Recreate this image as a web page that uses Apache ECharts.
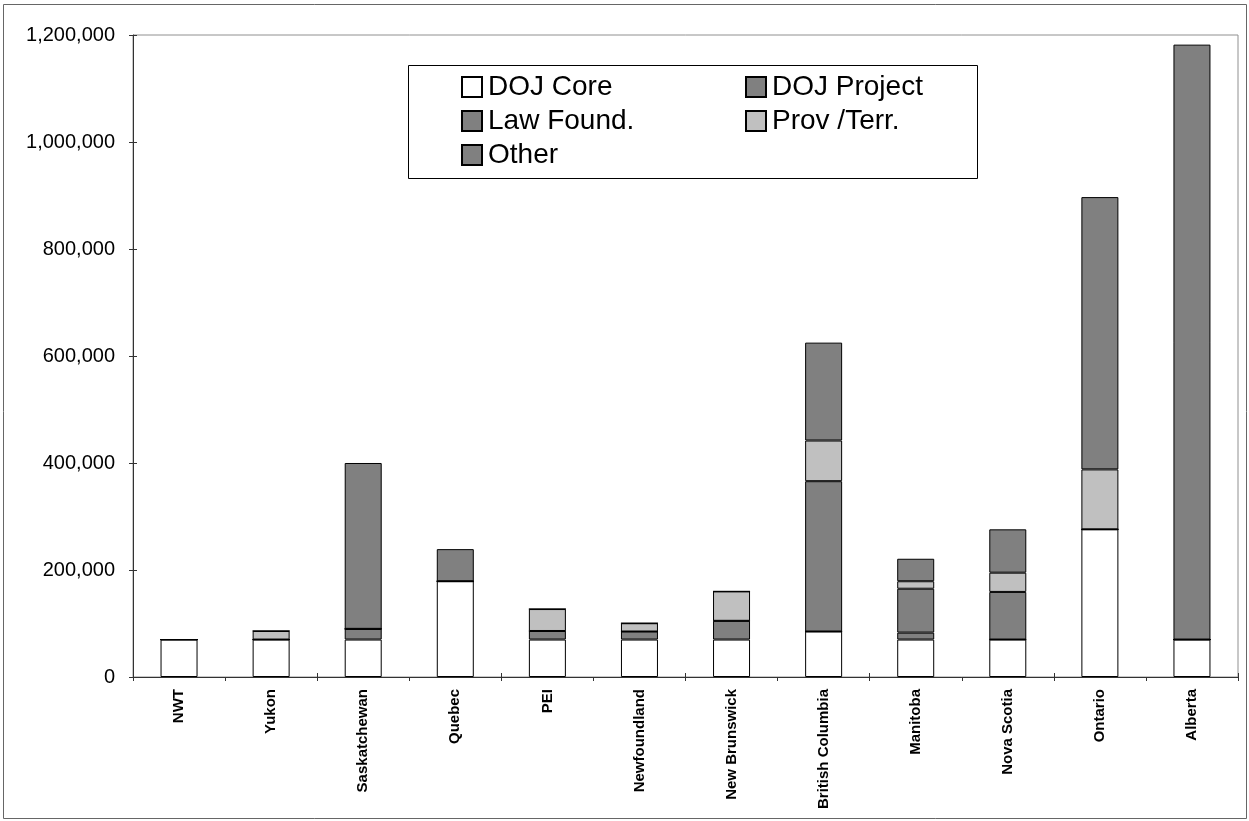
<!DOCTYPE html>
<html>
<head>
<meta charset="utf-8">
<title>Funding by jurisdiction</title>
<script src="https://cdn.jsdelivr.net/npm/echarts@6/dist/echarts.min.js"></script>
<style>
  html, body { margin: 0; padding: 0; background: #fff; }
  #chart { width: 1249px; height: 821px; }
</style>
</head>
<body>
<div id="chart"></div>
<script>
// Jurisdictions along the category axis
const provinces = ['NWT', 'Yukon', 'Saskatchewan', 'Quebec', 'PEI', 'Newfoundland',
  'New Brunswick', 'British Columbia', 'Manitoba', 'Nova Scotia', 'Ontario', 'Alberta'];

// Funding by source (dollars), stacked bottom to top
const dojCore    = [70000, 70000, 70000, 179000, 70000, 70000, 70000, 85000, 70000, 70000, 276000, 70000];
const dojProject = [0, 0, 20000, 0, 16000, 15000, 35000, 0, 13000, 0, 0, 0];
const lawFound   = [0, 0, 0, 0, 0, 0, 0, 281000, 82000, 89000, 0, 0];
const provTerr   = [0, 16000, 0, 0, 41000, 15500, 55000, 76000, 14000, 36000, 112000, 0];
const other      = [0, 0, 310000, 60000, 0, 0, 0, 183000, 42000, 81000, 509000, 1112000];

const yTicks = { min: 0, max: 1200000, step: 200000 };

const FONT = "'Liberation Sans', Arial, Helvetica, sans-serif";

const chart = echarts.init(document.getElementById('chart'), null, { renderer: 'canvas' });

function stackSeries(name, data, color) {
  return {
    name: name,
    type: 'bar',
    stack: 'total',
    data: data,
    barWidth: 37,
    itemStyle: { color: color, borderColor: '#000', borderWidth: 1 },
    emphasis: { disabled: true }
  };
}

const legendText = { fontFamily: FONT, fontSize: 28, color: '#000', padding: [0, 0, 0, 1] };

// One legend per column, so the two columns line up like a grid
function legendColumn(left, names) {
  return {
    orient: 'vertical', left: left, top: 68,
    itemWidth: 20, itemHeight: 20, itemGap: 6,
    selectedMode: false, icon: 'rect',
    textStyle: legendText,
    data: names
  };
}

chart.setOption({
  animation: false,
  backgroundColor: '#fff',
  grid: {
    left: 133, right: 11, top: 35, bottom: 144,
    show: true, borderColor: '#909090', borderWidth: 1
  },
  graphic: [
    {
      type: 'rect', silent: true, z: -1,
      shape: { x: 3.5, y: 4.5, width: 1243, height: 814 },
      style: { fill: 'none', stroke: '#666', lineWidth: 1 }
    },
    {
      type: 'rect', silent: true, z: 0,
      shape: { x: 408.5, y: 65.5, width: 569, height: 113 },
      style: { fill: '#fff', stroke: '#000', lineWidth: 1 }
    }
  ],
  legend: [
    legendColumn(456, ['DOJ Core', 'Law Found.', 'Other']),
    legendColumn(740, ['DOJ Project', 'Prov /Terr.'])
  ],
  xAxis: [
    {
      type: 'category',
      data: provinces,
      axisLine: { lineStyle: { color: '#333', width: 1 } },
      axisTick: { show: true, length: 4, lineStyle: { color: '#333' } },
      axisLabel: {
        rotate: 90, interval: 0, margin: 12,
        fontFamily: FONT, fontSize: 15, fontWeight: 'bold', color: '#000'
      },
      splitLine: { show: false }
    },
    {
      type: 'category',
      data: provinces,
      position: 'bottom',
      axisLine: { show: false },
      axisTick: { show: true, inside: true, length: 4, lineStyle: { color: '#333' } },
      axisLabel: { show: false },
      splitLine: { show: false }
    }
  ],
  yAxis: [
    {
      type: 'value',
      min: yTicks.min, max: yTicks.max, interval: yTicks.step,
      axisLine: { show: true, lineStyle: { color: '#333', width: 1 } },
      axisTick: { show: true, length: 4, lineStyle: { color: '#333' } },
      axisLabel: {
        margin: 18, fontFamily: FONT, fontSize: 20, color: '#000',
        formatter: v => v.toLocaleString('en-US')
      },
      splitLine: { show: false }
    },
    {
      type: 'value',
      min: yTicks.min, max: yTicks.max, interval: yTicks.step,
      position: 'left',
      axisLine: { show: false },
      axisTick: { show: true, inside: true, length: 4, lineStyle: { color: '#333' } },
      axisLabel: { show: false },
      splitLine: { show: false }
    }
  ],
  series: [
    stackSeries('DOJ Core', dojCore, '#ffffff'),
    stackSeries('DOJ Project', dojProject, '#808080'),
    stackSeries('Law Found.', lawFound, '#808080'),
    stackSeries('Prov /Terr.', provTerr, '#c0c0c0'),
    stackSeries('Other', other, '#808080')
  ]
});
</script>
</body>
</html>
